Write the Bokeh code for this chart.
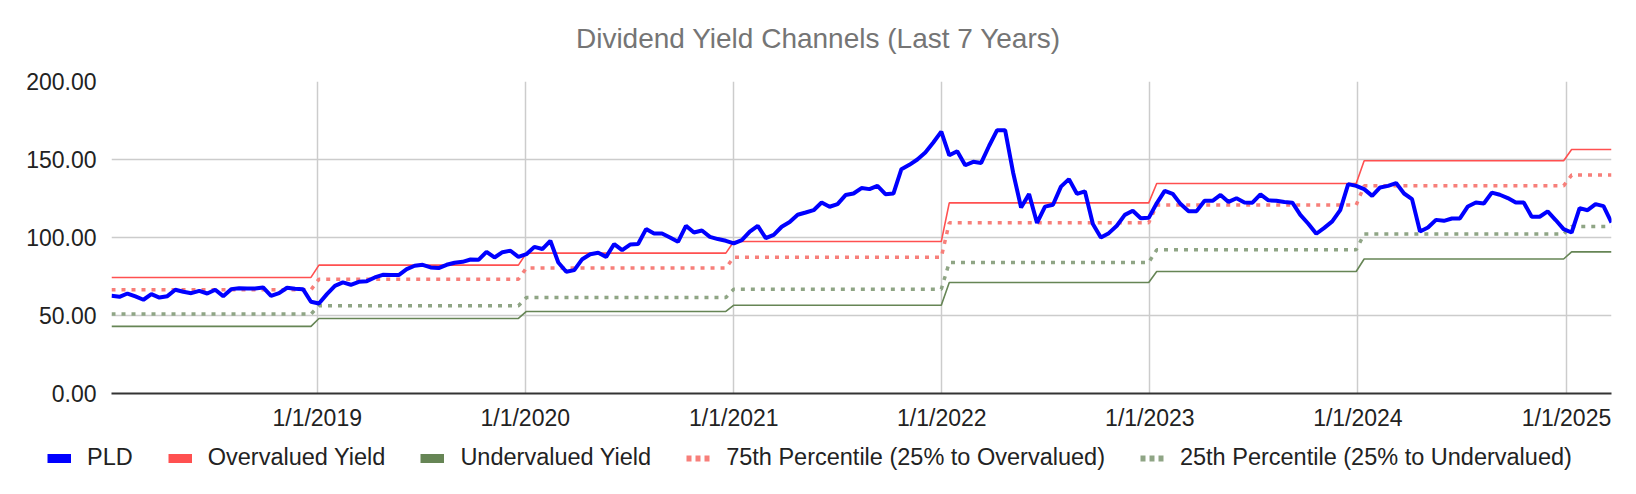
import datetime as dt
import pandas as pd
from bokeh.plotting import figure
from bokeh.layouts import column, row
from bokeh.models import (Range1d, FixedTicker, CustomJSTickFormatter, NumeralTickFormatter,
                          Legend, LegendItem, ColumnDataSource, Label)
from bokeh.embed import file_html
from bokeh.resources import INLINE

# ---------------- data ----------------
START_DATE = "2018-01-05"
FREQ = "14D"

pld = [
    62.6, 62.0, 64.1, 62.2, 60.1, 63.7, 61.5, 62.4, 66.5, 65.2,
    64.3, 65.8, 64.1, 66.5, 62.4, 66.9, 67.5, 67.3, 67.3, 68.0,
    62.6, 64.3, 67.8, 67.1, 66.9, 58.8, 57.7, 63.7, 69.0, 71.2,
    69.7, 71.6, 72.0, 74.4, 76.1, 75.9, 75.9, 79.7, 81.9, 82.5,
    80.8, 80.4, 82.5, 83.8, 84.4, 85.9, 85.7, 90.8, 87.2, 90.6,
    91.5, 87.6, 89.3, 94.0, 92.6, 97.9, 84.0, 78.0, 79.1, 86.1,
    89.3, 90.2, 87.6, 95.8, 91.9, 95.5, 95.8, 105.4, 102.6, 102.6,
    100.0, 97.2, 107.5, 103.2, 104.5, 100.4, 99.0, 97.9, 96.2, 98.3,
    103.8, 107.5, 99.6, 101.7, 106.9, 109.9, 114.6, 116.0, 117.5, 122.4,
    119.7, 121.4, 127.2, 128.2, 131.7, 131.0, 133.1, 127.8, 128.2, 143.8,
    146.6, 150.0, 154.5, 160.9, 167.9, 152.7, 155.3, 146.3, 148.5, 147.8,
    158.8, 168.8, 168.8, 141.7, 119.2, 127.8, 109.3, 119.8, 121.0, 132.6,
    137.4, 128.0, 129.6, 108.6, 100.0, 102.8, 107.5, 114.5, 117.1, 112.3,
    112.6, 121.9, 129.9, 128.0, 121.4, 116.9, 116.9, 123.5, 123.5, 127.3,
    122.8, 125.2, 122.5, 122.3, 127.6, 123.8, 123.5, 122.7, 122.3, 114.5,
    108.8, 102.4, 106.2, 110.3, 117.5, 134.2, 133.1, 131.0, 126.7, 132.1,
    133.1, 134.9, 128.2, 124.6, 103.8, 106.4, 111.3, 110.7, 112.2, 112.2,
    119.9, 122.4, 121.8, 128.8, 127.4, 125.3, 122.4, 122.4, 113.3, 113.3,
    116.7, 111.2, 105.4, 103.2, 118.8, 117.5, 121.4, 120.1, 109.6,
]

channel_years = [2018, 2019, 2020, 2021, 2022, 2023, 2024, 2025]
overvalued = [74.4, 82.3, 90.0, 97.4, 122.2, 134.6, 149.2, 156.4]
pct75 = [66.5, 73.3, 80.4, 87.4, 109.4, 120.8, 133.1, 140.0]
pct25 = [50.9, 56.2, 61.5, 66.9, 84.0, 92.1, 102.2, 107.1]
undervalued = [43.0, 48.1, 52.6, 56.6, 71.2, 78.2, 86.2, 90.8]

tick_years = [2019, 2020, 2021, 2022, 2023, 2024, 2025]
y_ticks = [0, 50, 100, 150, 200]

series_names = ["PLD", "Overvalued Yield", "Undervalued Yield",
                "75th Percentile (25% to Overvalued)", "25th Percentile (25% to Undervalued)"]
series_cols = ["pld", "over", "under", "p75", "p25"]
TITLE = "Dividend Yield Channels (Last 7 Years)"

# ---------------- build ----------------
dates = pd.date_range(START_DATE, periods=len(pld), freq=FREQ)
by_year = lambda arr: [arr[channel_years.index(d.year)] for d in dates]
src = ColumnDataSource(dict(
    date=dates, pld=pld,
    over=by_year(overvalued), under=by_year(undervalued),
    p75=by_year(pct75), p25=by_year(pct25),
))

FONT = "Liberation Sans"
BLUE = "#0000ff"
RED = "#ff5050"
GREEN = "#668555"
LRED = "#f77f7a"
LGREEN = "#8fa585"
W = 1636

# ---- title strip ----
TH = 70
tf = figure(width=W, height=TH, output_backend="svg", toolbar_location=None,
            x_axis_location=None, y_axis_location=None, min_border=0,
            x_range=Range1d(0, W), y_range=Range1d(0, TH))
tf.outline_line_color = None
tf.grid.visible = False
tf.add_layout(Label(x=W / 2, y=TH - 38, text=TITLE, text_align="center", text_baseline="middle",
                    text_font=FONT, text_font_size="28px", text_color="#757575"))

# ---- main plot ----
p = figure(x_axis_type="datetime", output_backend="svg", toolbar_location=None,
           frame_width=1500, frame_height=312,
           min_border_left=111, min_border_right=25, min_border_top=11, min_border_bottom=40,
           x_range=Range1d(dates[0], dates[-1]), y_range=Range1d(0, 200))
p.outline_line_color = None
p.background_fill_color = "white"

epoch = dt.datetime(1970, 1, 1)
x_ticks = [(dt.datetime(y, 1, 1) - epoch).total_seconds() * 1000 for y in tick_years]
p.xaxis.ticker = FixedTicker(ticks=x_ticks)
p.xaxis.formatter = CustomJSTickFormatter(code="""
const d = new Date(tick);
return (d.getUTCMonth()+1) + "/" + d.getUTCDate() + "/" + d.getUTCFullYear();
""")
p.yaxis.ticker = FixedTicker(ticks=y_ticks)
p.yaxis.formatter = NumeralTickFormatter(format="0.00")

for ax in (p.xaxis[0], p.yaxis[0]):
    ax.major_tick_line_color = None
    ax.minor_tick_line_color = None
    ax.major_label_text_font = FONT
    ax.major_label_text_font_size = "23px"
    ax.major_label_text_color = "#222222"
p.yaxis.axis_line_color = None
p.yaxis.major_label_standoff = 9
p.xaxis.axis_line_color = "#333333"
p.xaxis.axis_line_width = 2
p.xaxis.major_label_standoff = 5

p.grid.grid_line_color = "#cccccc"
p.grid.grid_line_width = 1.5

p.line("date", "p25", source=src, color=LGREEN, line_width=3.5, line_dash="4 6")
p.line("date", "p75", source=src, color=LRED, line_width=3.5, line_dash="4 6")
p.line("date", "under", source=src, color=GREEN, line_width=1.6)
p.line("date", "over", source=src, color=RED, line_width=1.6)
p.line("date", "pld", source=src, color=BLUE, line_width=4)

# ---- legend strip (series drawn outside its view; only the legend shows) ----
LH = 61
lf = figure(width=W, height=LH, output_backend="svg", toolbar_location=None,
            x_axis_location=None, y_axis_location=None, min_border=0,
            x_range=Range1d(0, 1), y_range=Range1d(0, 1))
lf.outline_line_color = None
lf.grid.visible = False

styles = [
    dict(color=BLUE, line_width=9),
    dict(color=RED, line_width=9),
    dict(color=GREEN, line_width=9),
    dict(color=LRED, line_width=6, line_dash="5 4"),
    dict(color=LGREEN, line_width=6, line_dash="5 4"),
]
items = []
for name, col, st in zip(series_names, series_cols, styles):
    r = lf.line("date", col, source=src, **st)
    items.append(LegendItem(label=name, renderers=[r]))

legend = Legend(items=items, orientation="horizontal", location=(47, 23),
                glyph_width=24, glyph_height=20, label_standoff=16, spacing=35,
                padding=0, margin=0, border_line_color=None, background_fill_alpha=0,
                label_text_font=FONT, label_text_font_size="23.5px", label_text_color="#222222")
lf.add_layout(legend)

layout = column(row(tf), row(p), row(lf), spacing=0)
open("out.html", "w").write(file_html(layout, INLINE))
